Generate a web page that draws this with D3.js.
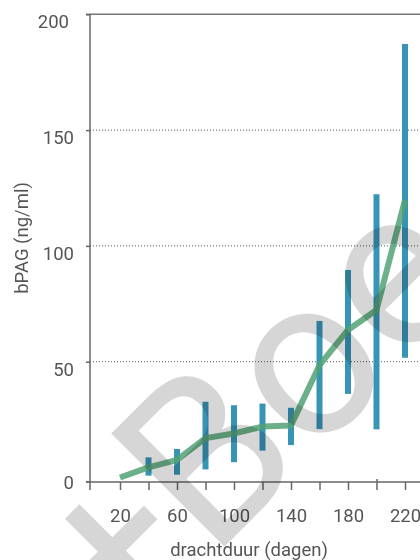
<!DOCTYPE html>
<html>
<head>
<meta charset="utf-8">
<script src="https://cdn.jsdelivr.net/npm/d3@7"></script>
<style>
  html, body { margin: 0; padding: 0; background: #fff; }
  svg { display: block; }
  text { font-family: Roboto, "Noto Sans", sans-serif; }
</style>
</head>
<body>
<svg id="chart" width="420" height="560"></svg>
<script>
// Gestation day at which bPAG was measured
const lineDays = [20, 40, 60, 80, 100, 120, 140, 160, 180, 200, 220];
// Mean bPAG concentration (ng/ml)
const meanValues = [0, 4.4, 7.6, 17, 19, 22, 22.5, 48.5, 63.7, 72.3, 119.8];
// Range bars per gestation day
const barDays = [40, 60, 80, 100, 120, 140, 160, 180, 200, 220];
const lowValues = [0.8, 1.2, 3.5, 6.6, 11.6, 14.0, 20.9, 36.1, 20.8, 51.7];
const highValues = [8.7, 12.3, 32.7, 31.2, 31.9, 30.1, 67.6, 89.6, 122.3, 187.2];
// Axis ticks
const xTickDays = [20, 40, 60, 80, 100, 120, 140, 160, 180, 200, 220];
const xLabelDays = [20, 60, 100, 140, 180, 220];
const yTicks = [0, 50, 100, 150, 200];
const gridTicks = [50, 100, 150];

const W = 420, H = 560;
const axisX = 90, axisY = 482;

const svg = d3.select("#chart");

const x = d3.scaleLinear().domain([20, 220]).range([120, 405]);
const y = d3.scaleLinear().domain([0, 200]).range([477.5, 14.3]);

// dotted gridlines
svg.append("g")
  .selectAll("line")
  .data(gridTicks)
  .join("line")
  .attr("x1", axisX).attr("x2", W)
  .attr("y1", d => y(d)).attr("y2", d => y(d))
  .attr("stroke", "#555").attr("stroke-width", 1)
  .attr("stroke-dasharray", "1,2");

// solid line at the top of the value range
svg.append("line")
  .attr("x1", axisX - 4).attr("x2", W)
  .attr("y1", y(200)).attr("y2", y(200))
  .attr("stroke", "#777").attr("stroke-width", 1.5);

// y axis
const yAxis = d3.axisLeft(y).tickValues(yTicks).tickSize(4).tickPadding(12);
const gy = svg.append("g").attr("transform", `translate(${axisX},0)`).call(yAxis);
gy.select(".domain").remove();
gy.selectAll(".tick line").attr("stroke", "#666").attr("stroke-width", 1.5);
gy.selectAll(".tick").filter(d => d === 0).attr("transform", `translate(0,${axisY})`);
gy.selectAll(".tick text")
  .attr("font-size", 18.5).attr("fill", "#555")
  .attr("font-family", "Roboto, sans-serif")
  .attr("dx", d => d === 200 ? -5 : 0)
  .attr("dy", d => d === 0 ? "0.4em" : "0.72em");
svg.append("line")
  .attr("x1", axisX).attr("x2", axisX)
  .attr("y1", y(200)).attr("y2", axisY + 8)
  .attr("stroke", "#666").attr("stroke-width", 1.5);

// x axis
const xAxis = d3.axisBottom(x).tickValues(xTickDays).tickSize(8)
  .tickFormat(d => xLabelDays.includes(d) ? d : "");
const gx = svg.append("g").attr("transform", `translate(0,${axisY})`).call(xAxis);
gx.select(".domain").remove();
gx.selectAll(".tick line").attr("stroke", "#666").attr("stroke-width", 1.5)
  .attr("y1", d => d === 200 ? -3 : 0);
gx.selectAll(".tick text")
  .attr("font-size", 18.5).attr("fill", "#555")
  .attr("font-family", "Roboto, sans-serif")
  .attr("y", 39.5).attr("dy", 0);
svg.append("line")
  .attr("x1", axisX - 4).attr("x2", W)
  .attr("y1", axisY).attr("y2", axisY)
  .attr("stroke", "#666").attr("stroke-width", 1.5);

// axis titles
svg.append("text")
  .attr("x", 249).attr("y", 556)
  .attr("text-anchor", "middle")
  .attr("font-size", 18.5).attr("fill", "#555")
  .text("drachtduur (dagen)");
svg.append("text")
  .attr("transform", "translate(28,238) rotate(-90)")
  .attr("text-anchor", "middle")
  .attr("font-size", 18.5).attr("fill", "#555")
  .text("bPAG (ng/ml)");

// range bars
svg.append("g")
  .selectAll("rect")
  .data(barDays.map((d, i) => ({ day: d, lo: lowValues[i], hi: highValues[i] })))
  .join("rect")
  .attr("x", d => x(d.day) - 3)
  .attr("width", 6)
  .attr("y", d => y(d.hi))
  .attr("height", d => y(d.lo) - y(d.hi))
  .attr("fill", "#3794b4");

// mean line
const line = d3.line().x(d => x(d[0])).y(d => y(d[1]));
svg.append("path")
  .datum(lineDays.map((d, i) => [d, meanValues[i]]))
  .attr("d", line)
  .attr("fill", "none")
  .attr("stroke", "#52a274")
  .attr("stroke-opacity", 0.85)
  .attr("stroke-width", 6)
  .attr("stroke-linejoin", "round");

// watermark
svg.append("text")
  .attr("transform", "translate(121,650) rotate(-45)")
  .attr("font-family", "'Open Sans', sans-serif")
  .attr("font-weight", 400)
  .attr("font-size", 225)
  .attr("fill", "#d6d6d6")
  .style("mix-blend-mode", "multiply")
  .text("+Boe");
</script>
</body>
</html>
